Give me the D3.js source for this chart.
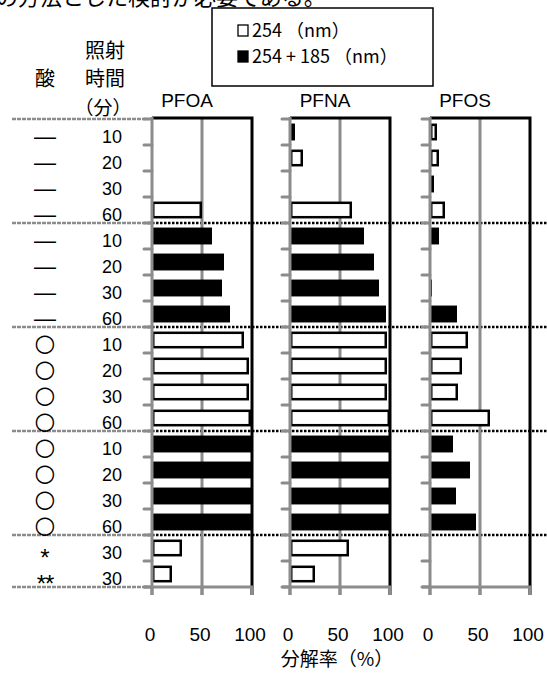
<!DOCTYPE html>
<html>
<head>
<meta charset="utf-8">
<script src="https://cdn.jsdelivr.net/npm/d3@7"></script>
<style>
  body { margin: 0; background: #fff; }
  svg { display: block; }
  text { fill: #000; }
</style>
</head>
<body>
<svg width="547" height="673"></svg>
<script>
// row labels
var acid = ["—","—","—","—","—","—","—","—","○","○","○","○","○","○","○","○","*","**"];
var time = ["10","20","30","60","10","20","30","60","10","20","30","60","10","20","30","60","30","30"];
// lamp used for each row: open bar = 254, filled bar = 254+185
var lamp = ["254","254","254","254","254+185","254+185","254+185","254+185",
            "254","254","254","254","254+185","254+185","254+185","254+185","254","254"];

var compounds = ["PFOA", "PFNA", "PFOS"];
// decomposition rate (%)
var pfoa = [0, 0, 0, 50, 60, 72, 70, 78, 92, 97, 97, 99, 100, 100, 100, 100, 30, 20];
var pfna = [5, 13, 0, 62, 74, 84, 89, 96, 97, 97, 97, 100, 100, 100, 100, 100, 59, 25];
var pfos = [7, 9, 4, 15, 9, 0, 2, 27, 38, 32, 28, 60, 23, 40, 26, 46, 1, 1];
var series = [pfoa, pfna, pfos];

var xTicks = [0, 50, 100];
var legendLabels = ["254 （nm）", "254 + 185 （nm）"];

var gray = "#8c8c8c";
var jp = "'Noto Sans CJK JP', sans-serif";
var num = "'Liberation Sans', Arial, sans-serif";

var svg = d3.select("svg");

// cut-off sentence from the page above the figure
svg.append("text")
    .attr("x", -4).attr("y", 5)
    .style("font-family", jp).style("font-size", "22px")
    .text("の方法とした検討が必要である。");

var plotTop = 119, plotBottom = 587;
var y = d3.scaleBand()
    .domain(d3.range(acid.length))
    .range([plotTop, plotBottom])
    .paddingInner(0.35)
    .paddingOuter(0.175);
var step = y.step();

// group boundaries (where the lamp changes)
var bounds = [plotTop];
for (var i = 1; i < acid.length; i++) {
    if (lamp[i] !== lamp[i - 1]) bounds.push(y(i) - step * 0.175);
}
bounds.push(plotBottom);

// label column lines
svg.selectAll(".lblLine")
    .data(bounds)
    .enter().append("line")
    .attr("x1", 12).attr("x2", 148)
    .attr("y1", function (d) { return d; })
    .attr("y2", function (d) { return d; })
    .attr("stroke", gray).attr("stroke-width", 2.5)
    .attr("stroke-dasharray", "4,1");

// dotted separators across the plots
svg.selectAll(".sep")
    .data(bounds.slice(1, -1))
    .enter().append("line")
    .attr("x1", 148).attr("x2", 547)
    .attr("y1", function (d) { return d; })
    .attr("y2", function (d) { return d; })
    .attr("stroke", "#000").attr("stroke-width", 2.5)
    .attr("stroke-dasharray", "2.5,1.5");

// header
svg.append("text").attr("x", 45).attr("y", 86).attr("text-anchor", "middle")
    .style("font-family", jp).style("font-size", "20px").text("酸");
svg.append("text").attr("x", 105).attr("y", 58).attr("text-anchor", "middle")
    .style("font-family", jp).style("font-size", "20px").text("照射");
svg.append("text").attr("x", 105).attr("y", 86).attr("text-anchor", "middle")
    .style("font-family", jp).style("font-size", "20px").text("時間");
svg.append("text").attr("x", 103).attr("y", 115).attr("text-anchor", "middle")
    .style("font-family", jp).style("font-size", "19px").text("（分）");

// row labels
var rowCenter = function (i) { return y(i) + y.bandwidth() / 2; };
svg.selectAll(".acid")
    .data(acid)
    .enter().append("text")
    .attr("x", 45)
    .attr("y", function (d, i) {
        if (d === "*" || d === "**") return rowCenter(i) + 18;
        if (d === "○") return rowCenter(i) + 11;
        return rowCenter(i) + 12;
    })
    .attr("text-anchor", "middle")
    .style("font-family", function (d) { return d === "○" ? "'DejaVu Sans', sans-serif" : num; })
    .style("font-size", function (d) {
        if (d === "○") return "24px";
        if (d === "—") return "22px";
        return "24px";
    })
    .style("letter-spacing", function (d) { return d === "**" ? "-1px" : null; })
    .text(function (d) { return d; });

svg.selectAll(".time")
    .data(time)
    .enter().append("text")
    .attr("x", 112)
    .attr("y", function (d, i) { return rowCenter(i) + 11; })
    .attr("text-anchor", "middle")
    .style("font-family", num).style("font-size", "18px")
    .text(function (d) { return d; });

// panels
var panelLeft = [152, 290, 430];

compounds.forEach(function (name, p) {
    var x = d3.scaleLinear().domain([0, 100]).range([panelLeft[p], panelLeft[p] + 100]);
    var g = svg.append("g");
    var data = series[p];

    // 50 gridline
    g.append("line")
        .attr("x1", x(50)).attr("x2", x(50))
        .attr("y1", plotTop).attr("y2", plotBottom + 8)
        .attr("stroke", gray).attr("stroke-width", 3);

    // bars
    g.selectAll(".bar")
        .data(data)
        .enter().append("rect")
        .attr("x", function (d, i) { return lamp[i] === "254" ? x(0) + 1.25 : x(0); })
        .attr("y", function (d, i) { return lamp[i] === "254" ? y(i) + 1.25 : y(i); })
        .attr("width", function (d, i) {
            var w = x(d) - x(0);
            return lamp[i] === "254" ? Math.max(0, w - 2.5) : w;
        })
        .attr("height", function (d, i) { return lamp[i] === "254" ? y.bandwidth() - 2.5 : y.bandwidth(); })
        .attr("fill", function (d, i) { return lamp[i] === "254" ? "#fff" : "#000"; })
        .attr("stroke", function (d, i) { return lamp[i] === "254" && d > 0 ? "#000" : "none"; })
        .attr("stroke-width", 2.5);

    // top and right border
    g.append("path")
        .attr("d", "M" + x(0) + "," + (plotTop - 1) + "H" + x(100) + "V" + (plotBottom + 8))
        .attr("fill", "none").attr("stroke", "#000").attr("stroke-width", 3);

    // left axis with row ticks
    g.append("line")
        .attr("x1", x(0)).attr("x2", x(0))
        .attr("y1", plotTop - 2).attr("y2", plotBottom + 8)
        .attr("stroke", gray).attr("stroke-width", 3);
    g.selectAll(".ytick")
        .data(d3.range(acid.length + 1))
        .enter().append("line")
        .attr("x1", x(0) - 8).attr("x2", x(0))
        .attr("y1", function (d) { return plotTop + d * step; })
        .attr("y2", function (d) { return plotTop + d * step; })
        .attr("stroke", gray).attr("stroke-width", 3)
        .attr("stroke-linecap", "round");

    // bottom axis
    g.append("line")
        .attr("x1", x(0) - 8).attr("x2", x(100) + 1)
        .attr("y1", plotBottom).attr("y2", plotBottom)
        .attr("stroke", gray).attr("stroke-width", 3);
    g.selectAll(".xtick")
        .data(xTicks)
        .enter().append("line")
        .attr("x1", function (d) { return x(d); })
        .attr("x2", function (d) { return x(d); })
        .attr("y1", plotBottom).attr("y2", plotBottom + 8)
        .attr("stroke", gray).attr("stroke-width", 3);
    g.selectAll(".xlabel")
        .data(xTicks)
        .enter().append("text")
        .attr("x", function (d) { return x(d) - 2; })
        .attr("y", 641)
        .attr("text-anchor", "middle")
        .style("font-family", num).style("font-size", "19px")
        .text(function (d) { return d; });

    // compound title
    g.append("text")
        .attr("x", x(35)).attr("y", 107)
        .attr("text-anchor", "middle")
        .style("font-family", num).style("font-size", "19px")
        .text(name);
});

// x axis title
svg.append("text")
    .attr("x", 337).attr("y", 666)
    .attr("text-anchor", "middle")
    .style("font-family", jp).style("font-size", "19px")
    .text("分解率（%）");

// legend
var legend = svg.append("g");
legend.append("rect")
    .attr("x", 212).attr("y", 8).attr("width", 221).attr("height", 78)
    .attr("fill", "#fff").attr("stroke", "#000").attr("stroke-width", 1.5);
legend.selectAll(".key")
    .data(legendLabels)
    .enter().append("rect")
    .attr("x", 238)
    .attr("y", function (d, i) { return 25 + i * 26; })
    .attr("width", 10).attr("height", 11)
    .attr("fill", function (d, i) { return i === 0 ? "#fff" : "#000"; })
    .attr("stroke", "#000").attr("stroke-width", 1.3);
legend.selectAll(".ltxt")
    .data(legendLabels)
    .enter().append("text")
    .attr("x", 252)
    .attr("y", function (d, i) { return 37 + i * 26; })
    .style("font-family", jp).style("font-size", "18px")
    .text(function (d) { return d; });
</script>
</body>
</html>
